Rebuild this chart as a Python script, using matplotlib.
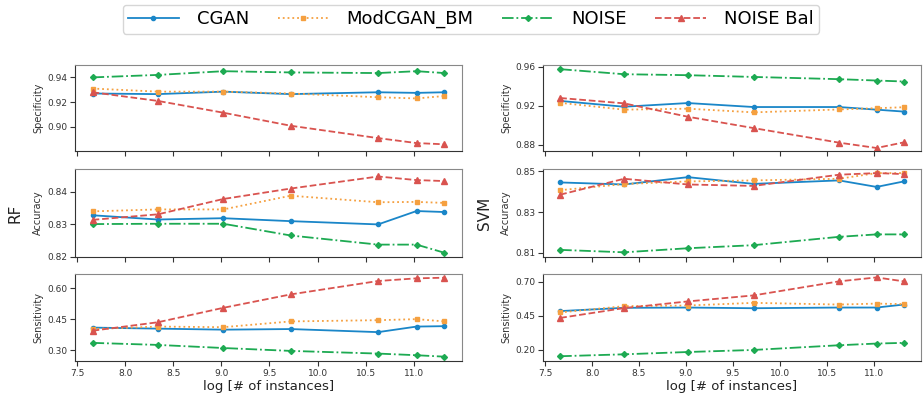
import matplotlib
matplotlib.use("Agg")
import matplotlib.pyplot as plt
from matplotlib.ticker import FixedLocator, FormatStrFormatter

# x positions: log of number of instances
log_n = [7.66, 8.34, 9.02, 9.72, 10.63, 11.03, 11.32]

methods = ["CGAN", "ModCGAN_BM", "NOISE", "NOISE Bal"]

# RF
rf_spec = {
    "CGAN":       [0.927, 0.9265, 0.9285, 0.9265, 0.928, 0.9275, 0.928],
    "ModCGAN_BM": [0.931, 0.9285, 0.9285, 0.927, 0.924, 0.923, 0.925],
    "NOISE":      [0.940, 0.942, 0.945, 0.944, 0.9435, 0.945, 0.9435],
    "NOISE Bal":  [0.928, 0.921, 0.9115, 0.901, 0.891, 0.887, 0.886],
}
rf_acc = {
    "CGAN":       [0.8328, 0.8315, 0.8319, 0.8310, 0.8300, 0.8341, 0.8338],
    "ModCGAN_BM": [0.8340, 0.8346, 0.8346, 0.8388, 0.8368, 0.8369, 0.8366],
    "NOISE":      [0.8301, 0.8302, 0.8302, 0.8266, 0.8238, 0.8238, 0.8213],
    "NOISE Bal":  [0.8314, 0.8331, 0.8378, 0.8410, 0.8447, 0.8436, 0.8433],
}
rf_sens = {
    "CGAN":       [0.410, 0.405, 0.400, 0.403, 0.388, 0.415, 0.417],
    "ModCGAN_BM": [0.403, 0.415, 0.412, 0.440, 0.446, 0.451, 0.440],
    "NOISE":      [0.336, 0.326, 0.311, 0.297, 0.284, 0.276, 0.269],
    "NOISE Bal":  [0.395, 0.436, 0.506, 0.571, 0.636, 0.649, 0.652],
}

# SVM
svm_spec = {
    "CGAN":       [0.925, 0.919, 0.9228, 0.9187, 0.9187, 0.916, 0.914],
    "ModCGAN_BM": [0.923, 0.916, 0.917, 0.9132, 0.9162, 0.9175, 0.9185],
    "NOISE":      [0.9577, 0.9525, 0.9515, 0.9497, 0.9474, 0.9460, 0.9450],
    "NOISE Bal":  [0.928, 0.9225, 0.9087, 0.897, 0.882, 0.8765, 0.8823],
}
svm_acc = {
    "CGAN":       [0.8446, 0.8436, 0.8472, 0.8439, 0.8456, 0.8424, 0.8451],
    "ModCGAN_BM": [0.8408, 0.8438, 0.8451, 0.8456, 0.8464, 0.8492, 0.8492],
    "NOISE":      [0.8115, 0.8103, 0.8123, 0.8138, 0.8179, 0.8191, 0.8191],
    "NOISE Bal":  [0.8386, 0.8464, 0.8436, 0.8429, 0.8484, 0.8492, 0.8487],
}
svm_sens = {
    "CGAN":       [0.485, 0.509, 0.511, 0.506, 0.511, 0.511, 0.533],
    "ModCGAN_BM": [0.475, 0.521, 0.526, 0.5455, 0.533, 0.540, 0.536],
    "NOISE":      [0.154, 0.168, 0.185, 0.200, 0.2345, 0.247, 0.252],
    "NOISE Bal":  [0.435, 0.507, 0.556, 0.600, 0.703, 0.732, 0.703],
}

styles = {
    "CGAN":       dict(color="#1a86c8", ls="-", marker="o", ms=3),
    "ModCGAN_BM": dict(color="#f5a040", ls=":", marker="s", ms=3.5),
    "NOISE":      dict(color="#1daa52", ls="-.", marker="D", ms=3),
    "NOISE Bal":  dict(color="#d9534f", ls="--", marker="^", ms=4.5),
}

panels = [
    # (column, row, data, ylabel, ylim, yticks)
    (0, 0, rf_spec, "Specificity", (0.8806, 0.950), [0.90, 0.92, 0.94]),
    (0, 1, rf_acc, "Accuracy", (0.820, 0.847), [0.82, 0.83, 0.84]),
    (0, 2, rf_sens, "Sensitivity", (0.248, 0.670), [0.30, 0.45, 0.60]),
    (1, 0, svm_spec, "Specificity", (0.8734, 0.962), [0.88, 0.92, 0.96]),
    (1, 1, svm_acc, "Accuracy", (0.808, 0.8512), [0.81, 0.83, 0.85]),
    (1, 2, svm_sens, "Sensitivity", (0.119, 0.757), [0.20, 0.45, 0.70]),
]

W, H = 923, 399
col_x = [(75, 462), (543, 921)]
row_y = [(65, 151), (169, 257), (274, 361)]

fig = plt.figure(figsize=(W / 100, H / 100), dpi=100)

handles = {}
for col, row, data, ylab, ylim, yticks in panels:
    x0, x1 = col_x[col]
    y0, y1 = row_y[row]
    ax = fig.add_axes([x0 / W, 1 - y1 / H, (x1 - x0) / W, (y1 - y0) / H])
    for m in methods:
        st = styles[m]
        (ln,) = ax.plot(log_n, data[m], color=st["color"], ls=st["ls"],
                        marker=st["marker"], ms=st["ms"], lw=1.3, label=m)
        handles[m] = ln
    ax.set_xlim(7.477, 11.503)
    ax.set_ylim(*ylim)
    ax.xaxis.set_major_locator(FixedLocator([7.5, 8.0, 8.5, 9.0, 9.5, 10.0, 10.5, 11.0]))
    ax.xaxis.set_major_formatter(FormatStrFormatter("%.1f"))
    ax.yaxis.set_major_locator(FixedLocator(yticks))
    ax.yaxis.set_major_formatter(FormatStrFormatter("%.2f"))
    ax.tick_params(labelsize=6.5, length=3.5, width=0.8, colors="#333333", pad=2)
    for side in ["left", "bottom"]:
        ax.spines[side].set_color("#333333")
    for side in ["top", "right"]:
        ax.spines[side].set_color("#888888")
    ax.set_ylabel(ylab, fontsize=7, color="#333333", labelpad=3)
    if row < 2:
        ax.tick_params(labelbottom=False)
    else:
        ax.set_xlabel("log [# of instances]", fontsize=9.5, color="#222222", labelpad=2)

fig.text(15 / W, 1 - 213 / H, "RF", rotation=90, fontsize=11, ha="center", va="center", color="#222222")
fig.text(485 / W, 1 - 213 / H, "SVM", rotation=90, fontsize=11, ha="center", va="center", color="#222222")

fig.legend([handles[m] for m in methods], methods, loc="upper center",
           bbox_to_anchor=(471 / W, 1.0), ncol=4, fontsize=13,
           frameon=True, fancybox=True, edgecolor="#cccccc", borderaxespad=0.25,
           handlelength=2.8, columnspacing=1.6, handletextpad=1.0, borderpad=0.3)

fig.savefig("out.png", dpi=100)
